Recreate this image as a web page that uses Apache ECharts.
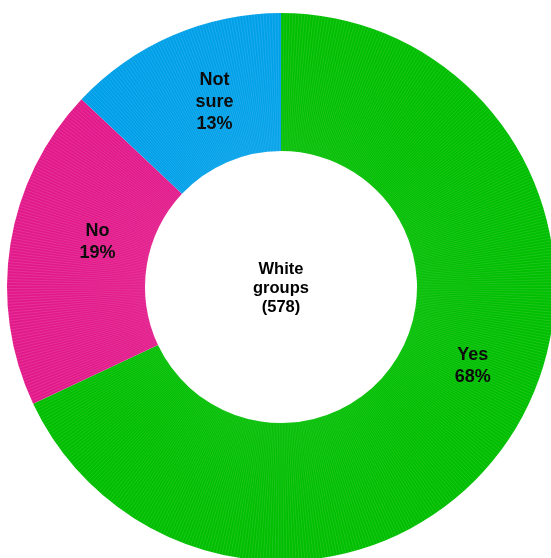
<!DOCTYPE html>
<html>
<head>
<meta charset="utf-8">
<script src="https://cdn.jsdelivr.net/npm/echarts@6/dist/echarts.min.js"></script>
<style>
  html, body { margin: 0; padding: 0; background: #ffffff; }
  #chart { width: 551px; height: 558px; }
</style>
</head>
<body>
<div id="chart"></div>
<script>
// Answers from the white groups, as number of groups per answer
const categories = ['Yes', 'No', 'Not sure'];
const groupCounts = [393, 110, 75];
const sampleLabel = 'White\ngroups\n(578)';
const colors = ['#00be00', '#e2198a', '#00a0e9'];

// One thin wedge per group, used only to draw the faint separators
const groupWedges = [];
groupCounts.forEach((n, ci) => {
  for (let i = 0; i < n; i++) groupWedges.push({ value: 1, name: categories[ci] });
});

const center = [281, 287];
const radius = [136, 274];

// Label nudges (dx, dy) per answer
const labelShift = [[16, -32], [22, -12], [16, 6]];

const chart = echarts.init(document.getElementById('chart'), null, { renderer: 'canvas' });
chart.setOption({
  animation: false,
  backgroundColor: '#ffffff',
  series: [
    {
      type: 'pie',
      center: center,
      radius: radius,
      startAngle: 90,
      clockwise: true,
      silent: true,
      avoidLabelOverlap: false,
      itemStyle: { borderWidth: 0 },
      emphasis: { disabled: true },
      data: categories.map((c, i) => ({
        name: c,
        value: groupCounts[i],
        itemStyle: { color: colors[i] }
      })),
      label: {
        show: true,
        position: 'inside',
        formatter: p => p.name.replace(' ', '\n') + '\n' + Math.round(p.percent) + '%',
        fontFamily: 'Liberation Sans, Arial, sans-serif',
        fontWeight: 'bold',
        fontSize: 18,
        lineHeight: 22,
        color: '#000000'
      },
      labelLine: { show: false },
      labelLayout: params => ({
        dx: labelShift[params.dataIndex][0],
        dy: labelShift[params.dataIndex][1]
      })
    },
    {
      type: 'pie',
      center: center,
      radius: radius,
      startAngle: 90,
      clockwise: true,
      silent: true,
      z: 3,
      emphasis: { disabled: true },
      label: { show: false },
      labelLine: { show: false },
      itemStyle: {
        color: 'rgba(0,0,0,0)',
        borderColor: 'rgba(255,255,255,0.3)',
        borderWidth: 0.2
      },
      data: groupWedges
    }
  ],
  graphic: [{
    type: 'text',
    x: center[0],
    y: center[1] + 1,
    z: 10,
    style: {
      text: sampleLabel,
      align: 'center',
      verticalAlign: 'middle',
      fontFamily: 'Liberation Sans, Arial, sans-serif',
      fontWeight: 'bold',
      fontSize: 16.5,
      lineHeight: 19,
      fill: '#000000'
    }
  }]
});
</script>
</body>
</html>
